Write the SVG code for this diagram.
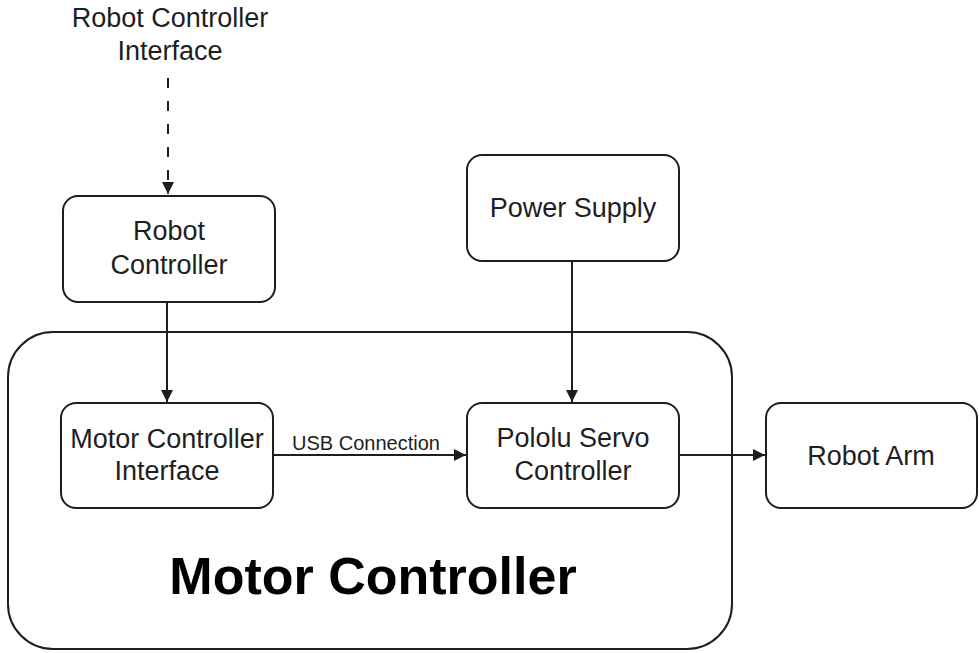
<svg xmlns="http://www.w3.org/2000/svg" width="979" height="653" viewBox="0 0 979 653">
<style>
.box{fill:#fff;stroke:#1e1e1e;stroke-width:2}
.lbl{font-family:"Liberation Sans",Arial,sans-serif;font-size:27px;fill:#1e1e1e;text-anchor:middle}
.edge{stroke:#1e1e1e;stroke-width:2;fill:none}
</style>
<defs>
<marker id="arr" markerWidth="12" markerHeight="12" viewBox="0 0 12 12" refX="12" refY="6" orient="auto" markerUnits="userSpaceOnUse">
<path d="M0,0 L12,6 L0,12 Z" fill="#1e1e1e"/>
</marker>
</defs>
<rect width="979" height="653" fill="#fff"/>
<g id="motor-controller">
<rect class="box" x="8" y="332" width="724" height="317" rx="45"/>
<text x="373" y="594" style="font-family:'Liberation Sans',Arial,sans-serif;font-size:52px;font-weight:bold;fill:#000;text-anchor:middle">Motor Controller</text>
</g>
<g id="robot-controller-interface">
<text class="lbl" x="170" y="27">Robot Controller</text>
<text class="lbl" x="170" y="60">Interface</text>
</g>
<g id="robot-controller">
<rect class="box" x="63" y="196" width="212" height="106" rx="15"/>
<text class="lbl" x="169" y="240">Robot</text>
<text class="lbl" x="169" y="274">Controller</text>
</g>
<g id="motor-controller-interface">
<rect class="box" x="61" y="403" width="212" height="105" rx="15"/>
<text class="lbl" x="167" y="448">Motor Controller</text>
<text class="lbl" x="167" y="480">Interface</text>
</g>
<g id="power-supply">
<rect class="box" x="467" y="155" width="212" height="106" rx="15"/>
<text class="lbl" x="573" y="217">Power Supply</text>
</g>
<g id="pololu-servo-controller">
<rect class="box" x="467" y="403" width="212" height="105" rx="15"/>
<text class="lbl" x="573" y="447">Pololu Servo</text>
<text class="lbl" x="573" y="480">Controller</text>
</g>
<g id="robot-arm">
<rect class="box" x="766" y="403" width="211" height="105" rx="15"/>
<text class="lbl" x="871" y="465">Robot Arm</text>
</g>
<g id="connectors">
<line class="edge" x1="168" y1="78" x2="168" y2="194" stroke-dasharray="10 13" marker-end="url(#arr)"/>
<line class="edge" x1="167" y1="302" x2="167" y2="402" marker-end="url(#arr)"/>
<line class="edge" x1="273" y1="455" x2="466" y2="455" marker-end="url(#arr)"/>
<text x="366" y="450" style="font-family:'Liberation Sans',Arial,sans-serif;font-size:20px;fill:#1e1e1e;text-anchor:middle">USB Connection</text>
<line class="edge" x1="572" y1="261" x2="572" y2="402" marker-end="url(#arr)"/>
<line class="edge" x1="679" y1="455" x2="765" y2="455" marker-end="url(#arr)"/>
</g>
</svg>
